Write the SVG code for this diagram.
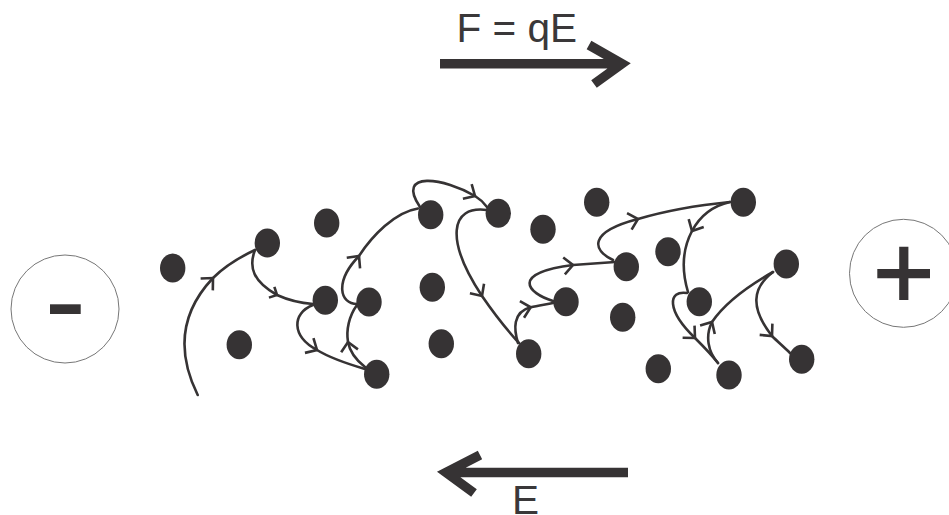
<svg xmlns="http://www.w3.org/2000/svg" width="949" height="515" viewBox="0 0 949 515">
<style>
text{font-family:"Liberation Sans",Arial,sans-serif;fill:#3a3839;font-size:40.5px}
.dot{fill:#363334}
.tr{fill:none;stroke:#363334;stroke-width:2.6;stroke-linecap:round;stroke-linejoin:round}
.big{marker-mid:url(#h)}
.sm{marker-mid:url(#s)}
.pole{fill:#fff;stroke:#777;stroke-width:1}
.bar{fill:none;stroke:#363334;stroke-width:9.5}
</style>
<defs>
<marker id="h" markerUnits="userSpaceOnUse" orient="auto" markerWidth="20" markerHeight="24" refX="12" refY="12" viewBox="0 0 20 24" overflow="visible"><path d="M3 3.5L12 12L3 20.5" fill="none" stroke="#363334" stroke-width="2.6"/></marker>
<marker id="s" markerUnits="userSpaceOnUse" orient="auto" markerWidth="20" markerHeight="24" refX="12" refY="12" viewBox="0 0 20 24" overflow="visible"><path d="M6 6L12 12L6 18" fill="none" stroke="#363334" stroke-width="2.6"/></marker>
</defs>
<g id="label-force"><text x="456.5" y="42">F = qE</text></g>
<g id="arrow-force"><path class="bar" d="M440 63.8H622M589 45L622 63.8L594 84"/></g>
<g id="arrow-field"><path class="bar" d="M628 472.5H446M480 455L446 472.5L474 493"/></g>
<g id="label-field"><text x="512" y="514">E</text></g>
<g id="pole-minus"><circle class="pole" cx="65" cy="309" r="54"/><rect x="50" y="304.3" width="30.7" height="9.7" fill="#363334"/></g>
<g id="pole-plus"><circle class="pole" cx="903.5" cy="273.3" r="54"/><path d="M903.8 246.7V300M877.3 273.7H930" fill="none" stroke="#363334" stroke-width="9.2"/></g>
<g id="connectors">
<path class="tr big" d="M197.7 395C178 355 178 315 213 278C226 265 240 257 255 250"/>
<path class="tr sm" d="M255 250C248 268 254 282 277 295C288 300 300 303 313 304"/>
<path class="tr big" d="M313 305C292 313 291 336 317 350C330 358 348 364 365 369"/>
<path class="tr big" d="M365 367C356 360 350 353 348 342C346 330 349 316 357 305"/>
<path class="tr big" d="M357 304C340 304 334 282 359 256C372 236 395 212 418 208.5"/>
<path class="tr big" d="M420 207C395 170 445 178 475 196C480 199 484 203 487 207"/>
<path class="tr big" d="M487 210C450 205 445 240 482 296C493 312 507 330 519 343"/>
<path class="tr big" d="M518 343C514 330 512 312 530.7 307.3C538 305.5 546 304.5 553 303"/>
<path class="tr big" d="M553 301C527 293 510 273 573 265C588 264 600 263 615 262"/>
<path class="tr big" d="M613 260C592 250 588 232 638 219C665 211 700 205 730 202"/>
<path class="tr big" d="M730 202C712 206 700 216 692 231C682 250 682 272 688 292"/>
<path class="tr big" d="M687 293C668 290 666 310 695 338C703 346 711 354 718 363"/>
<path class="tr big" d="M718 363C708 352 705 336 712 322C725 303 750 285 773 272"/>
<path class="tr big" d="M773 272C752 288 750 308 772 336C778 342 784 347 790 353"/>
</g>
<g id="dots" class="dot">
<ellipse cx="172.7" cy="268" rx="12.7" ry="14.5"/>
<ellipse cx="267.3" cy="243" rx="12.7" ry="14.5"/>
<ellipse cx="326.7" cy="223" rx="12.7" ry="14.5"/>
<ellipse cx="239.3" cy="344.7" rx="12.7" ry="14.5"/>
<ellipse cx="325.3" cy="300.3" rx="12.7" ry="14.5"/>
<ellipse cx="369" cy="302" rx="12.7" ry="14.5"/>
<ellipse cx="376.7" cy="374.3" rx="12.7" ry="14.5"/>
<ellipse cx="430.7" cy="214.7" rx="12.7" ry="14.5"/>
<ellipse cx="432.3" cy="287.3" rx="12.7" ry="14.5"/>
<ellipse cx="441.3" cy="343.7" rx="12.7" ry="14.5"/>
<ellipse cx="498.3" cy="213.3" rx="12.7" ry="14.5"/>
<ellipse cx="543" cy="229.3" rx="12.7" ry="14.5"/>
<ellipse cx="596.7" cy="202.3" rx="12.7" ry="14.5"/>
<ellipse cx="626.3" cy="266.7" rx="12.7" ry="14.5"/>
<ellipse cx="566" cy="301.7" rx="12.7" ry="14.5"/>
<ellipse cx="528.7" cy="353.7" rx="12.7" ry="14.5"/>
<ellipse cx="622.7" cy="317.3" rx="12.7" ry="14.5"/>
<ellipse cx="668" cy="251.7" rx="12.7" ry="14.5"/>
<ellipse cx="743.3" cy="202.3" rx="12.7" ry="14.5"/>
<ellipse cx="699.3" cy="301.7" rx="12.7" ry="14.5"/>
<ellipse cx="786.3" cy="264" rx="12.7" ry="14.5"/>
<ellipse cx="658.3" cy="368.7" rx="12.7" ry="14.5"/>
<ellipse cx="729" cy="375" rx="12.7" ry="14.5"/>
<ellipse cx="801.7" cy="359.3" rx="12.7" ry="14.5"/>
</g>
</svg>
